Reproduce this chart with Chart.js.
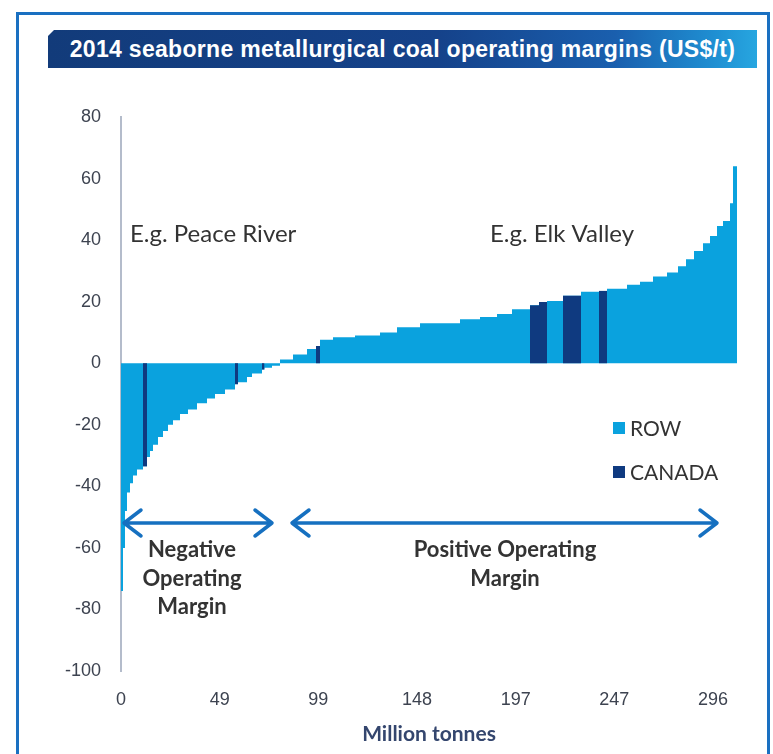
<!DOCTYPE html>
<html>
<head>
<meta charset="utf-8">
<title>2014 seaborne metallurgical coal operating margins</title>
<script src="https://cdn.jsdelivr.net/npm/chart.js@4.4.1/dist/chart.umd.min.js"></script>
<style>
  html, body { margin: 0; padding: 0; background: #ffffff; }
  #wrap { position: relative; width: 773px; height: 754px; overflow: hidden; background: #ffffff; }
  #frame {
    position: absolute; left: 16px; top: 12px; width: 754px; height: 800px;
    border: 3px solid #1a70c1; box-sizing: border-box;
  }
  #banner {
    position: absolute; left: 48px; top: 30px; width: 709px; height: 38px;
    background: linear-gradient(to right, #123b7a 0%, #15428a 55%, #1a5fae 80%, #1f8fd2 94%, #27a6e0 100%);
    clip-path: polygon(6px 0, 100% 0, 100% 100%, 0 100%, 0 6px);
    color: #ffffff; font: bold 23px "Liberation Sans", Arial, sans-serif;
    letter-spacing: 0.3px;
    display: flex; align-items: center; justify-content: center;
    white-space: nowrap;
  }
  #chartBox { position: absolute; left: 0; top: 0; width: 773px; height: 754px; }
</style>
</head>
<body>
<div id="wrap">
  <div id="frame"></div>
  <div id="banner">2014 seaborne metallurgical coal operating margins (US$/t)</div>
  <div id="chartBox"><canvas id="curve"></canvas></div>
</div>
<script>
// Mines sorted by operating margin: annual tonnage (Mt), margin (US$/t), region
const volumes = [
  1.0, 1.0, 1.0, 1.5, 1.5, 2.0, 3.0, 2.0, 1.5, 1.5,
  2.5, 2.5, 2.5, 2.5, 3.5, 4.0, 4.5, 5.0, 4.0, 5.0,
  5.0, 1.5, 4.5, 2.5, 5.0, 1.25, 3.75, 4.0, 6.5, 7.0,
  4.5, 2.0, 6.5, 11.0, 12.5, 8.5, 11.5, 20.0, 10.0, 8.5,
  7.5, 9.0, 4.5, 4.0, 8.0, 9.0, 9.0, 4.0, 10.0, 6.5,
  6.5, 7.0, 5.5, 4.0, 4.0, 4.5, 3.5, 3.5, 3.0, 3.5,
  1.5, 2.0
];
const margins = [
  -74, -60, -48, -42, -39, -36.5, -34.5, -33.5, -30.5, -28.5,
  -26.5, -24, -22, -20, -18.5, -16.5, -15, -13, -11.5, -10,
  -8.5, -6.8, -6.2, -4.5, -3.3, -2.0, -1.5, -0.8, 1.2, 2.8,
  4.6, 5.6, 7.6, 8.4, 9.0, 10.0, 11.7, 13.0, 14.3, 15.0,
  16.0, 17.5, 18.8, 19.9, 20.2, 21.9, 23.2, 23.5, 24.2, 25.5,
  26.5, 28.2, 29.5, 31.5, 33.8, 36.5, 39.0, 41.3, 44.6, 46.2,
  52.0, 64.0
];
const regions = [
  'ROW', 'ROW', 'ROW', 'ROW', 'ROW', 'ROW', 'ROW', 'CANADA', 'ROW', 'ROW',
  'ROW', 'ROW', 'ROW', 'ROW', 'ROW', 'ROW', 'ROW', 'ROW', 'ROW', 'ROW',
  'ROW', 'CANADA', 'ROW', 'ROW', 'ROW', 'CANADA', 'ROW', 'ROW', 'ROW', 'ROW',
  'ROW', 'CANADA', 'ROW', 'ROW', 'ROW', 'ROW', 'ROW', 'ROW', 'ROW', 'ROW',
  'ROW', 'ROW', 'CANADA', 'CANADA', 'ROW', 'CANADA', 'ROW', 'CANADA', 'ROW', 'ROW',
  'ROW', 'ROW', 'ROW', 'ROW', 'ROW', 'ROW', 'ROW', 'ROW', 'ROW', 'ROW',
  'ROW', 'ROW'
];
const xTickLabels = ['0', '49', '99', '148', '197', '247', '296'];
const xTickStep = 296 / 6;
const yTicks = [-100, -80, -60, -40, -20, 0, 20, 40, 60, 80];

const ROW_COLOR = '#0aa2de';
const CANADA_COLOR = '#0f3a80';

// cumulative start of each mine along the supply axis
const starts = [];
let total = 0;
volumes.forEach(v => { starts.push(total); total += v; });

// whole curve as one stepped, filled outline
const curvePoints = starts.map((x, i) => ({ x: x, y: margins[i] }));
curvePoints.push({ x: total, y: margins[margins.length - 1] });

const datasets = [{
  label: 'ROW',
  data: curvePoints,
  stepped: 'before',
  fill: 'origin',
  backgroundColor: ROW_COLOR,
  borderWidth: 0,
  pointRadius: 0,
  order: 2
}];

// Canadian mines drawn over the curve in dark blue
regions.forEach((r, i) => {
  if (r !== 'CANADA') return;
  datasets.push({
    label: 'CANADA',
    data: [{ x: starts[i], y: margins[i] }, { x: starts[i] + volumes[i], y: margins[i] }],
    stepped: 'before',
    fill: 'origin',
    backgroundColor: CANADA_COLOR,
    borderWidth: 0,
    pointRadius: 0,
    order: 1
  });
});

function drawArrow(ctx, x1, x2, y) {
  const dx = 17, dy = 13;
  ctx.beginPath();
  ctx.moveTo(x1, y);
  ctx.lineTo(x2, y);
  ctx.moveTo(x1 + dx, y - dy);
  ctx.lineTo(x1, y);
  ctx.lineTo(x1 + dx, y + dy);
  ctx.moveTo(x2 - dx, y - dy);
  ctx.lineTo(x2, y);
  ctx.lineTo(x2 - dx, y + dy);
  ctx.stroke();
}

// callouts, range arrows and the legend
const decorations = {
  id: 'decorations',
  afterDatasetsDraw(chart) {
    const ctx = chart.ctx;
    ctx.save();
    ctx.textBaseline = 'middle';

    ctx.fillStyle = '#333333';
    ctx.font = '24px Lato';
    ctx.textAlign = 'left';
    ctx.fillText('E.g. Peace River', 130, 234);
    ctx.fillText('E.g. Elk Valley', 490, 234);

    ctx.strokeStyle = '#1670c0';
    ctx.lineWidth = 3.5;
    ctx.lineCap = 'round';
    ctx.lineJoin = 'round';
    drawArrow(ctx, 124, 272, 523);
    drawArrow(ctx, 292, 717, 523);

    ctx.fillStyle = '#333333';
    ctx.font = 'bold 22px Lato';
    ctx.textAlign = 'center';
    ['Negative', 'Operating', 'Margin'].forEach((t, i) => ctx.fillText(t, 192, 550 + i * 28.5));
    ['Positive Operating', 'Margin'].forEach((t, i) => ctx.fillText(t, 505, 550 + i * 28.5));

    ctx.textAlign = 'left';
    ctx.font = '21px Lato';
    ctx.fillStyle = ROW_COLOR;
    ctx.fillRect(613, 422, 12, 12);
    ctx.fillStyle = CANADA_COLOR;
    ctx.fillRect(613, 466, 12, 12);
    ctx.fillStyle = '#333333';
    ctx.fillText('ROW', 630, 429);
    ctx.fillText('CANADA', 630, 473);
    ctx.restore();
  }
};

new Chart(document.getElementById('curve'), {
  type: 'line',
  data: { datasets: datasets },
  options: {
    responsive: true,
    maintainAspectRatio: false,
    animation: false,
    layout: { padding: { top: 117, right: 36, bottom: 0, left: 0 } },
    plugins: {
      legend: { display: false },
      tooltip: { enabled: false }
    },
    scales: {
      x: {
        type: 'linear',
        min: 0,
        max: total,
        afterBuildTicks: axis => {
          axis.ticks = xTickLabels.map((_, i) => ({ value: i * xTickStep }));
        },
        afterFit: axis => { axis.height = 83; },
        ticks: {
          autoSkip: false,
          maxRotation: 0,
          padding: 18,
          color: '#3d4350',
          font: { family: 'Liberation Sans', size: 18 },
          callback: (value, index) => xTickLabels[index]
        },
        grid: { display: false, drawTicks: false },
        border: { display: false },
        title: {
          display: true,
          text: 'Million tonnes',
          color: '#34466e',
          font: { family: 'Lato', weight: 'bold', size: 21 },
          padding: { top: 0, bottom: 7 }
        }
      },
      y: {
        min: yTicks[0],
        max: yTicks[yTicks.length - 1],
        afterBuildTicks: axis => {
          axis.ticks = yTicks.map(v => ({ value: v }));
        },
        afterFit: axis => { axis.width = 121; },
        ticks: {
          padding: 20,
          color: '#3d4350',
          font: { family: 'Liberation Sans', size: 18 }
        },
        grid: { display: false, drawTicks: false },
        border: { display: true, color: '#b4bccb', width: 2 }
      }
    }
  },
  plugins: [decorations]
});
</script>
</body>
</html>
